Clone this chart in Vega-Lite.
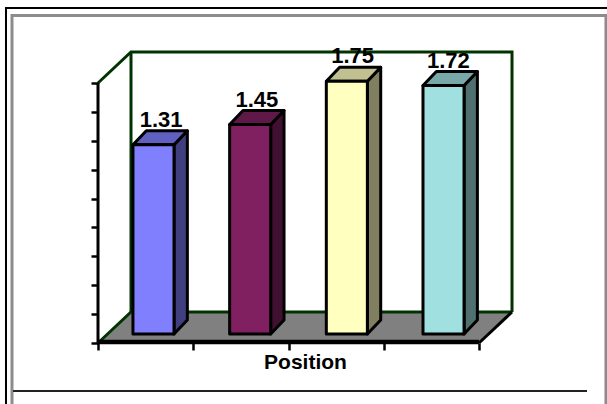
{
  "$schema": "https://vega.github.io/schema/vega-lite/v6.json",
  "width": 607,
  "height": 404,
  "autosize": {"type": "fit", "contains": "padding"},
  "padding": 0,
  "background": "white",
  "view": {"stroke": null},
  "datasets": {
    "bars": [
      {"bar": 1, "value": 1.31},
      {"bar": 2, "value": 1.45},
      {"bar": 3, "value": 1.75},
      {"bar": 4, "value": 1.72}
    ]
  },
  "data": {"name": "bars"},
  "resolve": {"scale": {"color": "independent"}},
  "encoding": {
    "x": {
      "type": "quantitative",
      "scale": {"domain": [-1.0289, 5.3438], "nice": false, "zero": false},
      "axis": {"orient": "bottom", "offset": -61, "values": [0, 1, 2, 3, 4], "labels": false, "domain": false, "grid": false, "tickColor": "#000000", "tickWidth": 2.5, "tickSize": 7, "title": "Position", "titleFont": "Liberation Sans", "titleFontWeight": "bold", "titleFontSize": 21, "titleColor": "#000000", "titleX": 305, "titleY": 25, "titleBaseline": "alphabetic", "titleAlign": "center", "zindex": 1}
    },
    "y": {
      "type": "quantitative",
      "scale": {"domain": [-0.4223, 2.3747], "nice": false, "zero": false},
      "axis": {"orient": "left", "offset": -98, "values": [0, 0.2, 0.4, 0.6, 0.8, 1, 1.2, 1.4, 1.6, 1.8], "labels": false, "domain": false, "grid": false, "title": null, "tickColor": "#000000", "tickWidth": 2.5, "tickSize": 7, "zindex": 1}
    }
  },
  "layer": [
    {
      "description": "Back wall edges of the 3D box",
      "data": {"values": [{"k": 1, "a": 0, "b": 1.8}, {"k": 2, "a": 0.3465, "b": 2.0146}, {"k": 3, "a": 4.3465, "b": 2.0146}, {"k": 4, "a": 4.3465, "b": 0.2146}]},
      "mark": {"type": "line", "color": "#003300", "strokeWidth": 3},
      "encoding": {"x": {"field": "a"}, "y": {"field": "b"}, "order": {"field": "k", "type": "quantitative"}}
    },
    {
      "description": "Left wall upright",
      "data": {"values": [{"a": 0.3465, "b": 2.0146}, {"a": 0.3465, "b": 0.2146}]},
      "mark": {"type": "line", "color": "#003300", "strokeWidth": 3},
      "encoding": {"x": {"field": "a"}, "y": {"field": "b"}}
    },
    {
      "description": "Grey floor",
      "data": {"values": [{"a": 0, "lo": 0, "hi": 4}, {"a": 0.2146, "lo": 0.3465, "hi": 4.3465}]},
      "mark": {"type": "area", "orient": "horizontal", "color": "#808080"},
      "encoding": {"y": {"field": "a"}, "x": {"field": "lo"}, "x2": {"field": "hi"}}
    },
    {
      "description": "Floor back edge",
      "data": {"values": [{"k": 1, "a": 0, "b": 0}, {"k": 2, "a": 0.3465, "b": 0.2146}, {"k": 3, "a": 4.3465, "b": 0.2146}]},
      "mark": {"type": "line", "color": "#003300", "strokeWidth": 3},
      "encoding": {"x": {"field": "a"}, "y": {"field": "b"}, "order": {"field": "k", "type": "quantitative"}}
    },
    {
      "description": "Floor right edge",
      "data": {"values": [{"a": 4, "b": 0}, {"a": 4.3465, "b": 0.2146}]},
      "mark": {"type": "line", "color": "#000000", "strokeWidth": 3},
      "encoding": {"x": {"field": "a"}, "y": {"field": "b"}}
    },
    {
      "description": "Value axis line",
      "data": {"values": [{"a": 0, "b": 0}, {"a": 0, "b": 1.8}]},
      "mark": {"type": "line", "color": "#000000", "strokeWidth": 3},
      "encoding": {"x": {"field": "a"}, "y": {"field": "b"}}
    },
    {
      "description": "Category axis line",
      "data": {"values": [{"a": 0, "b": 0.007}, {"a": 4, "b": 0.007}]},
      "mark": {"type": "line", "color": "#000000", "strokeWidth": 4.5},
      "encoding": {"x": {"field": "a"}, "y": {"field": "b"}}
    },
    {
      "description": "Right face of each bar",
      "transform": [
        {"calculate": "[0, 1]", "as": "t"},
        {"flatten": ["t"]},
        {"calculate": "0.798 + (datum.bar - 1) * 1.015 + datum.t * 0.14", "as": "sx"},
        {"calculate": "0.0623 + datum.t * 0.0969", "as": "sb"},
        {"calculate": "datum.value + 0.0623 + datum.t * 0.0969", "as": "st"}
      ],
      "mark": {"type": "area", "stroke": "#000000", "strokeWidth": 3, "strokeJoin": "round"},
      "encoding": {
        "detail": {"field": "bar"},
        "x": {"field": "sx"},
        "y": {"field": "sb"},
        "y2": {"field": "st"},
        "color": {"field": "bar", "type": "nominal", "legend": null, "scale": {"range": ["#404080", "#401030", "#808060", "#507070"]}}
      }
    },
    {
      "description": "Top face of each bar",
      "transform": [
        {"calculate": "[0, 1]", "as": "t"},
        {"flatten": ["t"]},
        {"calculate": "0.367 + (datum.bar - 1) * 1.015 + datum.t * 0.14", "as": "tl"},
        {"calculate": "0.798 + (datum.bar - 1) * 1.015 + datum.t * 0.14", "as": "tr"},
        {"calculate": "datum.value + 0.0623 + datum.t * 0.0969", "as": "ty"}
      ],
      "mark": {"type": "area", "orient": "horizontal", "stroke": "#000000", "strokeWidth": 3, "strokeJoin": "round"},
      "encoding": {
        "detail": {"field": "bar"},
        "y": {"field": "ty"},
        "x": {"field": "tl"},
        "x2": {"field": "tr"},
        "color": {"field": "bar", "type": "nominal", "legend": null, "scale": {"range": ["#6060C0", "#601848", "#C0C090", "#78A8A8"]}}
      }
    },
    {
      "description": "Front face of each bar",
      "transform": [
        {"calculate": "0.367 + (datum.bar - 1) * 1.015", "as": "fl"},
        {"calculate": "0.798 + (datum.bar - 1) * 1.015", "as": "fr"},
        {"calculate": "datum.value + 0.0623", "as": "ft"},
        {"calculate": "0.0623", "as": "fb"}
      ],
      "mark": {"type": "rect", "stroke": "#000000", "strokeWidth": 3, "strokeJoin": "round"},
      "encoding": {
        "x": {"field": "fl"},
        "x2": {"field": "fr"},
        "y": {"field": "ft"},
        "y2": {"field": "fb"},
        "color": {"field": "bar", "type": "nominal", "legend": null, "scale": {"range": ["#8080FF", "#802060", "#FFFFC0", "#A0E0E0"]}}
      }
    },
    {
      "description": "Value labels above the bars",
      "transform": [
        {"calculate": "0.663 + (datum.bar - 1) * 1.005", "as": "lx"},
        {"calculate": "datum.value + 0.0623 + 0.125", "as": "ly"}
      ],
      "mark": {"type": "text", "font": "Liberation Sans", "fontWeight": "bold", "fontSize": 22, "color": "#000000", "align": "center", "baseline": "alphabetic"},
      "encoding": {
        "x": {"field": "lx"},
        "y": {"field": "ly"},
        "text": {"field": "value", "type": "quantitative", "format": ".2f"}
      }
    },
    {
      "description": "Outer black frame, open at the right and bottom",
      "data": {"values": [{"k": 1, "a": -0.966, "b": -0.4223}, {"k": 2, "a": -0.966, "b": 2.319}, {"k": 3, "a": 5.3438, "b": 2.319}]},
      "mark": {"type": "line", "color": "#000000", "strokeWidth": 2, "clip": true},
      "encoding": {"x": {"field": "a"}, "y": {"field": "b"}, "order": {"field": "k", "type": "quantitative"}}
    },
    {
      "description": "Inner grey frame",
      "data": {"values": [{"k": 1, "a": -0.903, "b": -0.4223}, {"k": 2, "a": -0.903, "b": 2.267}, {"k": 3, "a": 5.333, "b": 2.267}, {"k": 4, "a": 5.333, "b": -0.4223}]},
      "mark": {"type": "line", "color": "#8c8c8c", "strokeWidth": 3, "clip": true},
      "encoding": {"x": {"field": "a"}, "y": {"field": "b"}, "order": {"field": "k", "type": "quantitative"}}
    },
    {
      "description": "Divider above the lower panel",
      "data": {"values": [{"a": -0.892, "b": -0.3323}, {"a": 5.134, "b": -0.3323}]},
      "mark": {"type": "line", "color": "#222222", "strokeWidth": 2},
      "encoding": {"x": {"field": "a"}, "y": {"field": "b"}}
    }
  ]
}
